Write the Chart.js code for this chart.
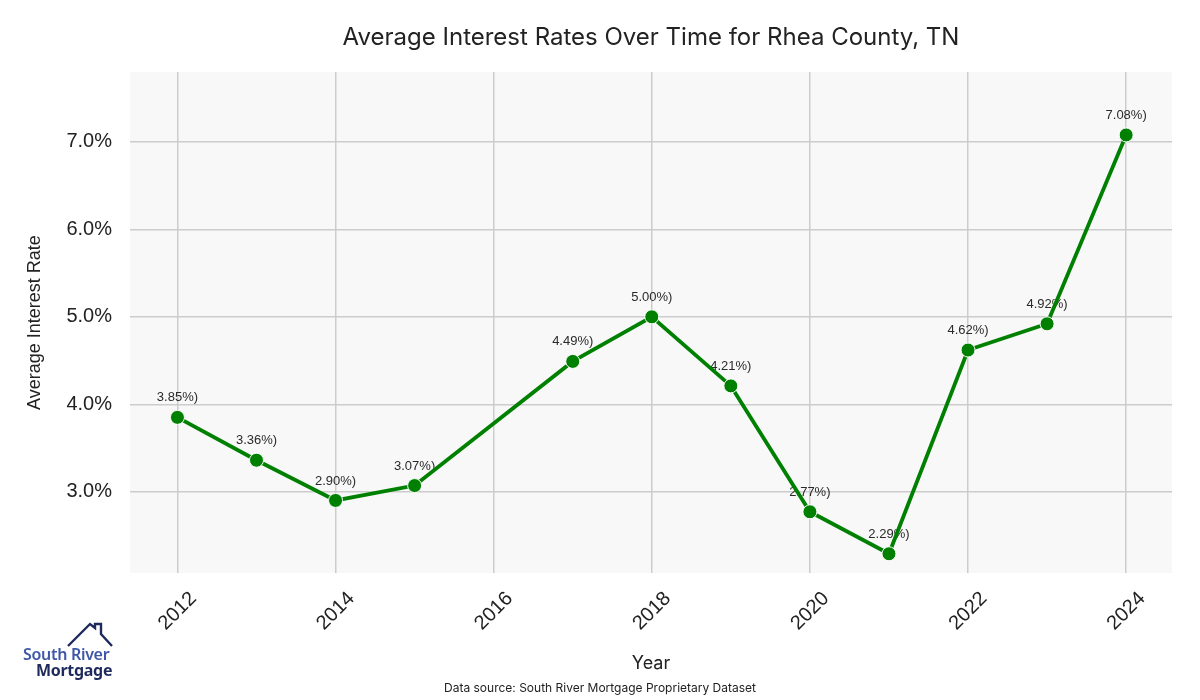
<!DOCTYPE html>
<html>
<head>
<meta charset="utf-8">
<script src="https://cdn.jsdelivr.net/npm/chart.js@4"></script>
<style>
  html, body { margin: 0; padding: 0; background: #fff; }
  #wrap { position: relative; width: 1200px; height: 700px; }
  #logo { position: absolute; left: 22px; top: 620px; width: 100px; height: 60px; }
  #logo svg { position: absolute; left: 0; top: 0; }
  #logo .l1 { position: absolute; left: 1px; top: 23px; font: 600 16px "Noto Sans", sans-serif; color: #3f57a8; letter-spacing: -0.3px; white-space: nowrap; }
  #logo .l2 { position: absolute; left: 14px; top: 39px; font: 700 16px "Noto Sans", sans-serif; color: #1f2a5c; letter-spacing: -0.3px; white-space: nowrap; }
</style>
</head>
<body>
<div id="wrap">
  <canvas id="chart1" width="1200" height="700"></canvas>
  <div id="logo">
    <svg width="100" height="40">
      <polyline points="46,26 68,4 73,8 73,4 79,4 79,14 90,26" fill="none" stroke="#1f2a5c" stroke-width="2.4"/>
    </svg>
    <div class="l1">South River</div>
    <div class="l2">Mortgage</div>
  </div>
</div>
<script>
// DATA
const years = [2012, 2013, 2014, 2015, 2017, 2018, 2019, 2020, 2021, 2022, 2023, 2024];
const rates = [3.85, 3.36, 2.90, 3.07, 4.49, 5.00, 4.21, 2.77, 2.29, 4.62, 4.92, 7.08];
const yTicks = [3, 4, 5, 6, 7];
const xTicks = [2012, 2014, 2016, 2018, 2020, 2022, 2024];
const chartTitle = 'Average Interest Rates Over Time for Rhea County, TN';
const sourceNote = 'Data source: South River Mortgage Proprietary Dataset';

const points = years.map((y, i) => ({ x: y, y: rates[i] }));

// plot background + title centred over the plot
const plotBg = {
  id: 'plotBg',
  beforeDraw(chart) {
    const a = chart.chartArea, c = chart.ctx;
    c.save();
    c.fillStyle = '#f8f8f8';
    c.fillRect(a.left, a.top, a.right - a.left, a.bottom - a.top);
    c.font = '24px Inter, sans-serif';
    c.fillStyle = '#222';
    c.textAlign = 'center';
    c.textBaseline = 'middle';
    c.fillText(chartTitle, (a.left + a.right) / 2, 38);
    c.restore();
  }
};

// value labels, drawn under the line
const valueLabels = {
  id: 'valueLabels',
  beforeDatasetsDraw(chart) {
    const c = chart.ctx;
    const meta = chart.getDatasetMeta(0);
    c.save();
    c.font = '13px "Liberation Sans", Arial, sans-serif';
    c.fillStyle = '#2a2a2a';
    c.textAlign = 'center';
    c.textBaseline = 'bottom';
    meta.data.forEach((pt, i) => {
      c.fillText(rates[i].toFixed(2) + '%)', pt.x, pt.y - 13);
    });
    c.restore();
  }
};

// footer text
const footer = {
  id: 'footer',
  afterDraw(chart) {
    const c = chart.ctx;
    c.save();
    c.font = '12px Inter, sans-serif';
    c.fillStyle = '#222';
    c.textAlign = 'center';
    c.textBaseline = 'middle';
    c.fillText(sourceNote, 600, 688);
    c.restore();
  }
};

let ctx1 = document.getElementById('chart1').getContext('2d');
let myChart1 = new Chart(ctx1, {
  type: 'line',
  data: {
    datasets: [{
      data: points,
      borderColor: '#008000',
      borderWidth: 3.8,
      pointBackgroundColor: '#008000',
      pointBorderColor: '#ffffff',
      pointBorderWidth: 1,
      pointRadius: 7,
      tension: 0
    }]
  },
  options: {
    responsive: false,
    animation: false,
    layout: { padding: { left: 24, right: 28, top: 72, bottom: 26 } },
    plugins: {
      legend: { display: false },
      tooltip: { enabled: false },
      title: { display: false }
    },
    scales: {
      x: {
        type: 'linear',
        min: 2011.4,
        max: 2024.58,
        afterBuildTicks(s) { s.ticks = xTicks.map(v => ({ value: v })); },
        afterFit(s) { s.height = 101; },
        grid: { color: '#cccccc', lineWidth: 1.5, drawTicks: false },
        border: { display: false },
        ticks: {
          minRotation: 45,
          maxRotation: 45,
          padding: 14,
          labelOffset: 16,
          color: '#222',
          font: { family: '"Liberation Sans", Arial, sans-serif', size: 20 },
          callback: v => String(v)
        },
        title: {
          display: true,
          text: 'Year',
          color: '#222',
          font: { family: 'Inter', size: 18 },
          padding: { top: 0, bottom: 0 }
        }
      },
      y: {
        min: 2.07,
        max: 7.8,
        afterBuildTicks(s) { s.ticks = yTicks.map(v => ({ value: v })); },
        afterFit(s) { s.width = 106; },
        grid: { color: '#cccccc', lineWidth: 1.5, drawTicks: false },
        border: { display: false },
        ticks: {
          padding: 18,
          color: '#222',
          font: { family: '"Liberation Sans", Arial, sans-serif', size: 20 },
          callback: v => v.toFixed(1) + '%'
        },
        title: {
          display: true,
          text: 'Average Interest Rate',
          color: '#222',
          font: { family: '"Liberation Sans", Arial, sans-serif', size: 18 },
          padding: { top: 0, bottom: 0 }
        }
      }
    }
  },
  plugins: [plotBg, valueLabels, footer]
});
</script>
</body>
</html>
